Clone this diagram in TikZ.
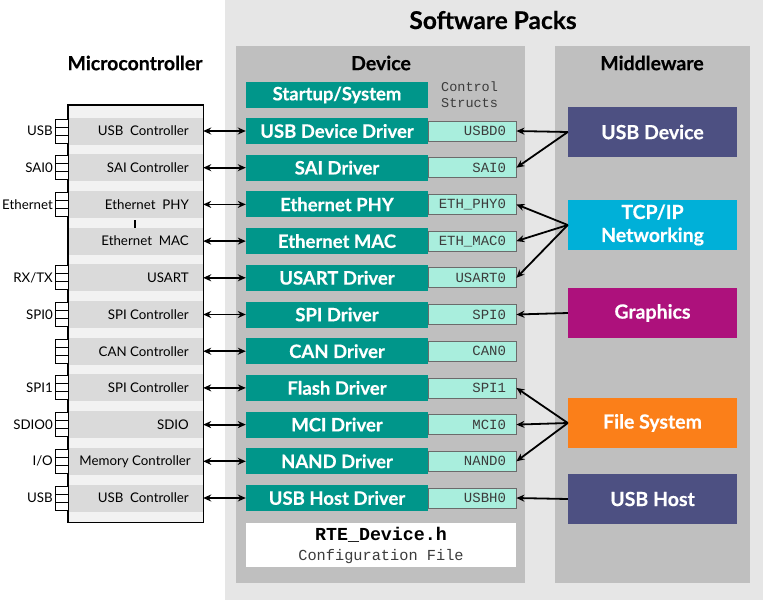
\documentclass[tikz,border=0pt]{standalone}
\usepackage{fontspec}
\setmainfont{Lato}
\newfontfamily\hvy{Lato}[FakeBold=0.4]
\newfontfamily\monof{Liberation Mono}
\usetikzlibrary{arrows.meta}
\definecolor{outerbg}{HTML}{E6E6E6}
\definecolor{panelbg}{HTML}{BFBFBF}
\definecolor{drvteal}{HTML}{00968A}
\definecolor{csaqua}{HTML}{A9EEDD}
\definecolor{csborder}{HTML}{6B6B6B}
\definecolor{mcuband}{HTML}{DADADA}
\definecolor{mcubg}{HTML}{F2F2F2}
\definecolor{usbpurple}{HTML}{4D5082}
\definecolor{tcpblue}{HTML}{00B0D8}
\definecolor{gfxmag}{HTML}{AD117C}
\definecolor{fsorange}{HTML}{FB7F19}
\definecolor{monogray}{HTML}{3C3C3C}
\begin{document}
\begin{tikzpicture}[x=1pt,y=-1pt,
  panelbox/.style={inner sep=0pt, anchor=north west},
  ttl/.style={font=\hvy\bfseries\fontsize{19.5}{22}\selectfont},
  drv/.style={fill=drvteal, text=white, font=\hvy\bfseries\fontsize{18.5}{20}\selectfont,
    minimum width=182pt, minimum height=26pt, inner sep=0pt},
  cs/.style={draw=csborder, fill=csaqua, text=monogray, line width=0.8pt,
    font=\monof\fontsize{14}{15}\selectfont, minimum height=20pt,
    text width=68pt, inner xsep=10pt, inner ysep=0pt, align=right},
  band/.style={fill=mcuband, minimum width=135pt, minimum height=27pt, inner sep=0pt},
  mculbl/.style={anchor=east, font=\fontsize{13.3}{15}\selectfont, inner sep=0pt},
  pinlbl/.style={anchor=east, font=\fontsize{13.3}{15}\selectfont, inner sep=0pt},
  pinst/.style={draw=black, fill=white, line width=1pt},
  mw/.style={text=white, font=\hvy\bfseries\fontsize{19.5}{23}\selectfont, align=center,
    minimum width=169pt, minimum height=50pt, inner sep=0pt},
  dblarr/.style={{Stealth[length=8pt,width=7pt]}-{Stealth[length=8pt,width=7pt]}, line width=1.8pt},
  sarr/.style={-{Stealth[length=8pt,width=7pt]}, line width=1.8pt}
]
\useasboundingbox (0,0) rectangle (763,600);
\fill[white] (0,0) rectangle (763,600);

% panels
\node[panelbox, fill=outerbg, minimum width=538pt, minimum height=600pt] (sw) at (225,0) {};
\node[panelbox, fill=panelbg, minimum width=289pt, minimum height=537pt] (dev) at (236,46) {};
\node[panelbox, fill=panelbg, minimum width=195pt, minimum height=537pt] (mid) at (555,46) {};

% titles
\node[font=\hvy\bfseries\fontsize{24.5}{27}\selectfont] (tsw) at (493,20) {Software Packs};
\node[ttl] (tdev) at (381,63) {Device};
\node[ttl] (tmid) at (652,63) {Middleware};
\node[ttl] (tmcu) at (135,63) {Microcontroller};

% microcontroller body
\node[panelbox, fill=mcubg, minimum width=135pt, minimum height=417pt] (mcu) at (68,105) {};
\node[band] (b0) at (135.5,131) {};
\node[band] (b1) at (135.5,167.7) {};
\node[band] (b2) at (135.5,204.4) {};
\node[band] (b3) at (135.5,241.1) {};
\node[band] (b4) at (135.5,277.8) {};
\node[band] (b5) at (135.5,314.5) {};
\node[band] (b6) at (135.5,351.2) {};
\node[band] (b7) at (135.5,387.9) {};
\node[band] (b8) at (135.5,424.6) {};
\node[band] (b9) at (135.5,461.3) {};
\node[band] (b10) at (135.5,498) {};
\draw[line width=1.5pt] (mcu.north west) rectangle (mcu.south east);
\draw[line width=2pt] (135,220) -- (135,228);

\node[mculbl] (ml0) at (189,131) {USB\ \ Controller};
\node[mculbl] (ml1) at (189,167.7) {SAI Controller};
\node[mculbl] (ml2) at (189,204.4) {Ethernet\ \ PHY};
\node[mculbl] (ml3) at (189,241.1) {Ethernet\ \ MAC};
\node[mculbl] (ml4) at (189,277.8) {USART};
\node[mculbl] (ml5) at (189,314.5) {SPI Controller};
\node[mculbl] (ml6) at (189,351.2) {CAN Controller};
\node[mculbl] (ml7) at (189,387.9) {SPI Controller};
\node[mculbl] (ml8) at (189,424.6) {SDIO};
\node[mculbl] (ml9) at (191,461.3) {Memory Controller};
\node[mculbl] (ml10) at (189,498) {USB\ \ Controller};

% pins
\foreach \yy in {131,167.7,204.4,277.8,314.5,351.2,387.9,424.6,461.3,498}{
  \draw[pinst] (55,{\yy-12}) rectangle (68,{\yy-4});
  \draw[pinst] (55,{\yy-4}) rectangle (68,{\yy+4});
  \draw[pinst] (55,{\yy+4}) rectangle (68,{\yy+12});
}
\node[pinlbl] (pl0) at (53,131) {USB};
\node[pinlbl] (pl1) at (53,167.7) {SAI0};
\node[pinlbl] (pl2) at (53,204.4) {Ethernet};
\node[pinlbl] (pl4) at (53,277.8) {RX/TX};
\node[pinlbl] (pl5) at (53,314.5) {SPI0};
\node[pinlbl] (pl7) at (53,387.9) {SPI1};
\node[pinlbl] (pl8) at (53,424.6) {SDIO0};
\node[pinlbl] (pl9) at (53,461.3) {I/O};
\node[pinlbl] (pl10) at (53,498) {USB};

% drivers
\node[drv] (dst) at (337,95) {Startup/System};
\node[drv] (d0) at (337,131) {USB Device Driver};
\node[drv] (d1) at (337,167.7) {SAI Driver};
\node[drv] (d2) at (337,204.4) {Ethernet PHY};
\node[drv] (d3) at (337,241.1) {Ethernet MAC};
\node[drv] (d4) at (337,277.8) {USART Driver};
\node[drv] (d5) at (337,314.5) {SPI Driver};
\node[drv] (d6) at (337,351.2) {CAN Driver};
\node[drv] (d7) at (337,387.9) {Flash Driver};
\node[drv] (d8) at (337,424.6) {MCI Driver};
\node[drv] (d9) at (337,461.3) {NAND Driver};
\node[drv] (d10) at (337,498) {USB Host Driver};

% control structs
\node[align=left, text=monogray, font=\monof\fontsize{13.5}{16}\selectfont, inner sep=0pt, anchor=west] (cst) at (441,95) {Control\\Structs};
\node[cs] (c0) at (472,131) {USBD0};
\node[cs] (c1) at (472,167.7) {SAI0};
\node[cs] (c2) at (472,204.4) {ETH\_PHY0};
\node[cs] (c3) at (472,241.1) {ETH\_MAC0};
\node[cs] (c4) at (472,277.8) {USART0};
\node[cs] (c5) at (472,314.5) {SPI0};
\node[cs] (c6) at (472,351.2) {CAN0};
\node[cs] (c7) at (472,387.9) {SPI1};
\node[cs] (c8) at (472,424.6) {MCI0};
\node[cs] (c9) at (472,461.3) {NAND0};
\node[cs] (c10) at (472,498) {USBH0};

% RTE config file
\node[fill=white, minimum width=270pt, minimum height=44pt, inner sep=0pt, align=center,
  font=\monof\fontsize{15.3}{19}\selectfont] (rte) at (381,545)
  {{\bfseries\fontsize{18.3}{19}\selectfont RTE\_Device.h}\\[1pt]{\color{monogray}Configuration File}};

% middleware
\node[mw, fill=usbpurple] (mUSBD) at (652.5,132) {USB Device};
\node[mw, fill=tcpblue] (mTCP) at (652.5,225) {TCP/IP\\Networking};
\node[mw, fill=gfxmag] (mGFX) at (652.5,313) {Graphics};
\node[mw, fill=fsorange] (mFS) at (652.5,423) {File System};
\node[mw, fill=usbpurple] (mUSBH) at (652.5,499) {USB Host};

% mcu <-> driver arrows
\foreach \i in {0,...,10}{
  \draw[dblarr] (b\i.east) -- (d\i.west);
}

% middleware -> control structs
\draw[sarr] (mUSBD.west) -- (c0.east);
\draw[sarr] (mUSBD.west) -- (c1.east);
\draw[sarr] (mTCP.west) -- (c2.east);
\draw[sarr] (mTCP.west) -- (c3.east);
\draw[sarr] (mTCP.west) -- (c4.east);
\draw[sarr] (mGFX.west) -- (c5.east);
\draw[sarr] (mFS.west) -- (c7.east);
\draw[sarr] (mFS.west) -- (c8.east);
\draw[sarr] (mFS.west) -- (c9.east);
\draw[sarr] (mUSBH.west) -- (c10.east);
\end{tikzpicture}
\end{document}
